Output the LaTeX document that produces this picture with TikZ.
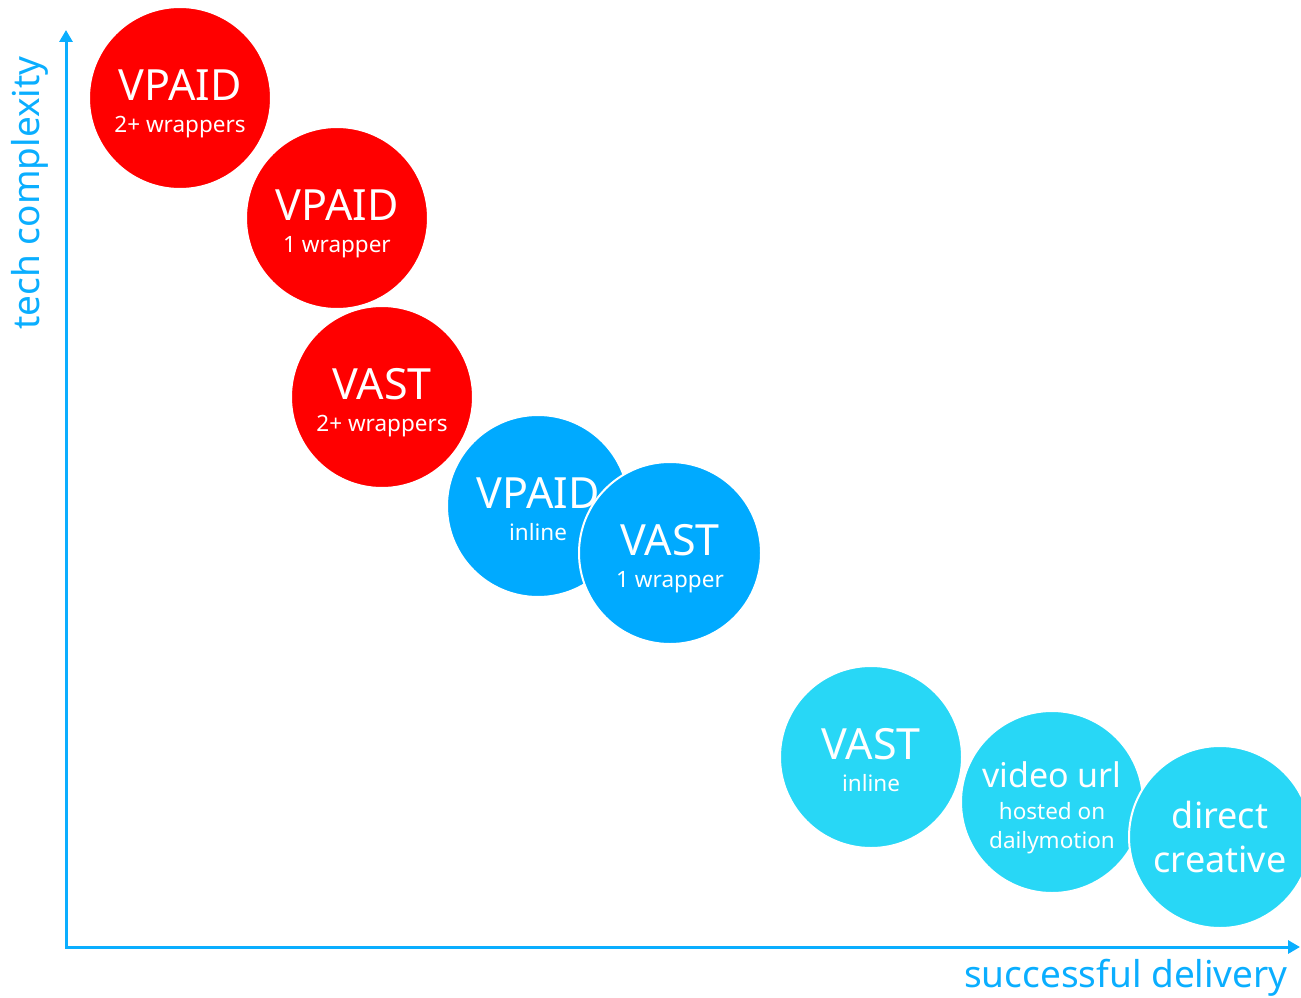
\documentclass[tikz,border=0pt]{standalone}
\usepackage{fontspec}
\setmainfont{Noto Sans}
\usetikzlibrary{arrows.meta}

\definecolor{hotred}{HTML}{FF0000}
\definecolor{midblue}{HTML}{00AAFF}
\definecolor{lightcyan}{HTML}{28D7F6}
\definecolor{axisblue}{HTML}{0AAEFF}

\begin{document}
\begin{tikzpicture}[
  x=1pt, y=-1pt,
  bubble/.style={circle, draw=white, line width=2pt, minimum size=182pt, inner sep=0pt},
  headtext/.style={text=white, anchor=base, inner sep=0pt, font=\fontsize{43}{43}\selectfont},
  subtext/.style={text=white, anchor=base, inner sep=0pt, font=\fontsize{22.5}{22.5}\selectfont},
  midtext/.style={text=white, anchor=base, inner sep=0pt, font=\fontsize{34}{34}\selectfont},
  axis/.style={axisblue, line width=3pt, {Triangle[width=13pt,length=12pt]}-{Triangle[width=13pt,length=12pt]}},
  axislabel/.style={text=axisblue, font=\fontsize{37}{37}\selectfont, inner sep=0pt}
]
\useasboundingbox (0,0) rectangle (1301,998);

% ===== Axes =====
\coordinate (origin) at (66,947);
\coordinate (ytop) at (66,30);
\coordinate (xend) at (1300,947);
\draw[axis] (ytop) -- (origin) -- (xend);

\node[axislabel, rotate=90] (ylab) at (30,193) {tech complexity};
\node[axislabel, anchor=east] (xlab) at (1288,978) {successful delivery};

% ===== Red bubbles =====
\node[bubble, fill=hotred] (vpaidmulti) at (180,98) {};
\node[headtext] (vpaidmultihead) at ([yshift=-2pt]vpaidmulti.center) {VPAID};
\node[subtext] (vpaidmultisub) at ([yshift=-34pt]vpaidmulti.center) {2+ wrappers};

\node[bubble, fill=hotred] (vpaidone) at (337,218) {};
\node[headtext] (vpaidonehead) at ([yshift=-2pt]vpaidone.center) {VPAID};
\node[subtext] (vpaidonesub) at ([yshift=-34pt]vpaidone.center) {1 wrapper};

\node[bubble, fill=hotred] (vastmulti) at (382,397) {};
\node[headtext] (vastmultihead) at ([yshift=-2pt]vastmulti.center) {VAST};
\node[subtext] (vastmultisub) at ([yshift=-34pt]vastmulti.center) {2+ wrappers};

% ===== Blue bubbles =====
\node[bubble, fill=midblue] (vpaidinline) at (538,506) {};
\node[headtext] (vpaidinlinehead) at ([yshift=-2pt]vpaidinline.center) {VPAID};
\node[subtext] (vpaidinlinesub) at ([yshift=-34pt]vpaidinline.center) {inline};

\node[bubble, fill=midblue] (vastone) at (670,553) {};
\node[headtext] (vastonehead) at ([yshift=-2pt]vastone.center) {VAST};
\node[subtext] (vastonesub) at ([yshift=-34pt]vastone.center) {1 wrapper};

% ===== Light bubbles =====
\node[bubble, fill=lightcyan] (vastinline) at (871,757) {};
\node[headtext] (vastinlinehead) at ([yshift=-2pt]vastinline.center) {VAST};
\node[subtext] (vastinlinesub) at ([yshift=-34pt]vastinline.center) {inline};

\node[bubble, fill=lightcyan] (videourl) at (1052,802) {};
\node[midtext] (videourlhead) at ([yshift=15pt]videourl.center) {video url};
\node[subtext] (videourlhost) at ([yshift=-17pt]videourl.center) {hosted on};
\node[subtext] (videourlsite) at ([yshift=-46pt]videourl.center) {dailymotion};

\node[bubble, fill=lightcyan] (direct) at (1220,837) {};
\node[midtext, font=\fontsize{36}{36}\selectfont] (directtop) at ([yshift=9pt]direct.center) {direct};
\node[midtext, font=\fontsize{36}{36}\selectfont] (directbottom) at ([yshift=-35pt]direct.center) {creative};

\end{tikzpicture}
\end{document}
